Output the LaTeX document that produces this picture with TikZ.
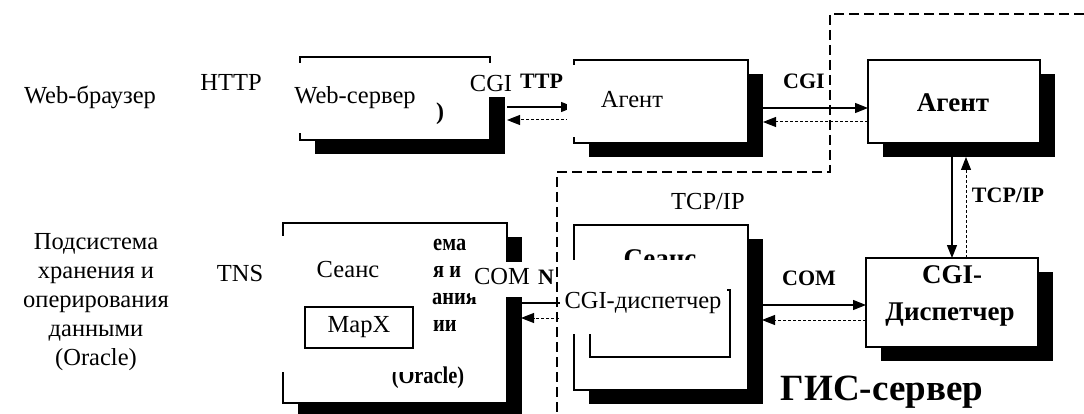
\documentclass[tikz,border=0pt]{standalone}
\usepackage{fontspec}
\setmainfont{Liberation Serif}
\usetikzlibrary{shadows,arrows.meta,calc}
\tikzset{
  sbox/.style={draw=black, line width=1.3pt, fill=white, inner sep=0pt, outer sep=0pt,
    drop shadow={shadow xshift=15pt, shadow yshift=-14pt, fill=black, draw=none, opacity=1}},
  plainbox/.style={draw=black, line width=1.2pt, inner sep=0pt, outer sep=0pt},
  fwd/.style={line width=1.3pt, -{Triangle[length=13pt,width=10pt]}},
  bwd/.style={line width=1pt, dash pattern=on 3pt off 2pt, -{Triangle[length=13pt,width=10pt]}},
  zone/.style={line width=2.2pt, dash pattern=on 10pt off 5pt},
  ov/.style={font=\fontsize{24.5}{29}\selectfont, inner sep=0pt},
  bl/.style={font=\fontsize{22}{26}\selectfont\bfseries, inner sep=0pt},
  bx/.style={font=\fontsize{27}{30}\selectfont\bfseries, inner sep=0pt},
  frag/.style={font=\fontsize{24}{26}\selectfont\bfseries, inner sep=0pt},
  patch/.style={fill=white, draw=none}
}
\newcommand{\narrow}[1]{\scalebox{0.85}[1]{#1}}
\begin{document}
\begin{tikzpicture}[x=1pt,y=-1pt]
\useasboundingbox[fill=white] (0,0) rectangle (1084,414);

% GIS-server zone outline
\coordinate (z0) at (1084,14);
\coordinate (z1) at (830,14);
\coordinate (z2) at (830,172);
\coordinate (z3) at (557,172);
\coordinate (z4) at (557,414);
\draw[zone] (z0) -- (z1) -- (z2) -- (z3) -- (z4);

% boxes
\node[sbox, minimum width=190pt, minimum height=83pt] (web) at (395,98.5) {};
\node[sbox, minimum width=174pt, minimum height=83pt] (ag1) at (661,101.5) {};
\node[sbox, minimum width=172pt, minimum height=83pt] (ag2) at (954,101.5) {};
\node[sbox, minimum width=172pt, minimum height=89pt] (disp) at (952,302.5) {};
\node[sbox, minimum width=174pt, minimum height=165pt] (seans) at (661,307.5) {};
\node[sbox, minimum width=224pt, minimum height=180pt] (oracle) at (395,313) {};
\node[plainbox, line width=1.3pt, minimum width=140pt, minimum height=67pt] (inner) at (660,323.5) {};

% connectors
\coordinate (w1) at ([xshift=17pt,yshift=-8.5pt]web.east);
\coordinate (w2) at ([xshift=17pt,yshift=-21.5pt]web.east);
\draw[fwd] (w1) -- (w1 -| ag1.west);
\draw[bwd] (w2 -| ag1.west) -- (w2);

\coordinate (g1) at ([xshift=15pt,yshift=-6.5pt]ag1.east);
\coordinate (g2) at ([xshift=15pt,yshift=-20.5pt]ag1.east);
\draw[fwd] (g1) -- (g1 -| ag2.west);
\draw[bwd] (g2 -| ag2.west) -- (g2);

\coordinate (v1) at ([xshift=-2pt,yshift=-14pt]ag2.south);
\coordinate (v2) at ([xshift=12pt,yshift=-14pt]ag2.south);
\draw[fwd] (v1) -- (v1 |- disp.north);
\draw[bwd] (v2 |- disp.north) -- (v2);

\coordinate (s1) at ([xshift=14pt,yshift=2.5pt]seans.east);
\coordinate (s2) at ([xshift=14pt,yshift=-12.5pt]seans.east);
\draw[fwd] (s1) -- (s1 -| disp.west);
\draw[bwd] (s2 -| disp.west) -- (s2);

\coordinate (o1) at ([xshift=14pt,yshift=10pt]oracle.east);
\coordinate (o2) at ([xshift=14pt,yshift=-5pt]oracle.east);
\draw[fwd] (o1) -- (o1 -| seans.west);
\draw[bwd] (o2 -| seans.west) -- (o2);

% original bold labels
\node[bl] (lcgi) at (804,81) {CGI};
\node[bl] (ltcp) at (1008,195) {TCP/IP};
\node[bl] (lcom) at (809,278) {COM};
\node[font=\fontsize{37}{40}\selectfont\bfseries, inner sep=0pt] (gis) at (882,392) {ГИС-сервер};
\node[bx] (tag2) at (953,103) {Агент};
\node[bx] (tcgi) at (952,275) {CGI-};
\node[bx] (tdisp) at (950,315) {Диспетчер};

% fragments of the original bold text
\node[bl, anchor=west] (fhttp) at (520,81) {TTP};
\node[bl] (fn) at (546,277) {N};
\node[bx, anchor=base] (fseans) at (660,267) {Сеанс};
\node[font=\fontsize{24}{26}\selectfont\bfseries, inner sep=0pt] (fbr) at (440,114) {)};
\node[frag, anchor=west] (f1) at (433,245) {\narrow{ема}};
\node[frag, anchor=west] (f2) at (433,272) {\narrow{я и}};
\node[frag, anchor=west] (f3) at (432,299) {\narrow{ания}};
\node[frag, anchor=west] (f4) at (433,326) {\narrow{ии}};
\node[frag] (f5) at (428,378) {\narrow{(Oracle)}};

% white patches of the overlay
\fill[patch] (290,63) rectangle (432,133);
\fill[patch] (432,63) rectangle (516,97);
\fill[patch] (567,65) rectangle (700,137);
\fill[patch] (280,236) rectangle (430,372);
\fill[patch] (470,262) rectangle (535,297);
\fill[patch] (560,260) rectangle (727,334);

% overlay texts
\node[ov] (browser) at (90,97) {Web-браузер};
\node[ov] (http) at (231,82) {HTTP};
\node[ov] (websrv) at (355,98) {Web-сервер};
\node[ov] (cgi) at (491,84) {CGI};
\node[ov] (agent) at (632,100) {Агент};
\node[ov] (tcp) at (708,202) {TCP/IP};
\node[ov, align=center] (subsys) at (96,302) {Подсистема\\хранения и\\оперирования\\данными\\(Oracle)};
\node[ov] (tns) at (240,274) {TNS};
\node[ov] (seanstxt) at (348,270) {Сеанс};
\node[plainbox, minimum width=108pt, minimum height=41pt, font=\fontsize{24.5}{29}\selectfont] (mapx) at (359,327.5) {MapX};
\node[ov] (com) at (502,277) {COM};
\node[ov] (cgidisp) at (643,303) {CGI-диспетчер};
\end{tikzpicture}
\end{document}
